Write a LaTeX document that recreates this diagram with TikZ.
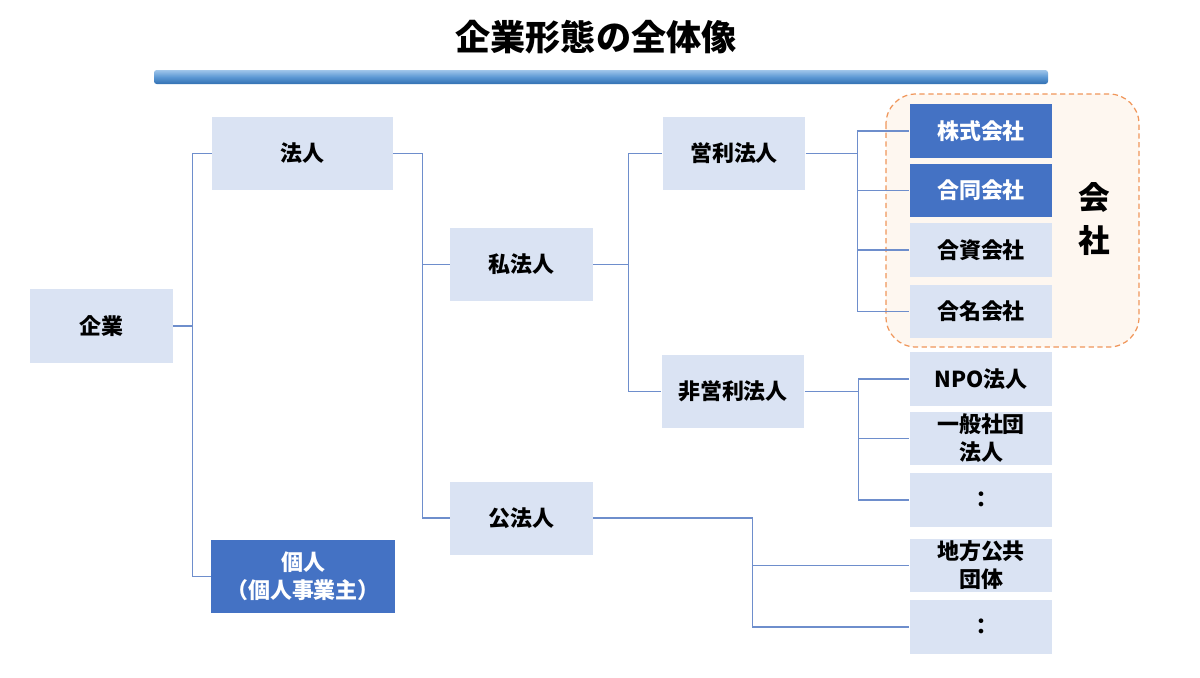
\documentclass[tikz,border=0pt]{standalone}
\usepackage{fontspec}
\setmainfont{Noto Sans CJK JP}
\definecolor{boxblue}{RGB}{218,227,243}
\definecolor{darkblue}{RGB}{68,114,196}
\definecolor{linkblue}{RGB}{110,142,204}
\definecolor{kaiorange}{RGB}{240,150,90}
\definecolor{kaifill}{RGB}{254,247,240}
\tikzset{
  ent/.style={fill=boxblue, inner sep=0pt, align=center,
    font=\fontsize{12.5}{16}\selectfont\bfseries},
  entdark/.style={ent, fill=darkblue, text=white},
  lvl/.style={minimum width=2.86cm, minimum height=1.46cm},
  leaf/.style={minimum width=2.86cm, minimum height=1.07cm},
  link/.style={draw=linkblue, line width=0.6pt},
}
\begin{document}
\begin{tikzpicture}[x=0.02cm, y=-0.02cm]
  \useasboundingbox (0,0) rectangle (1200,677);
  % title and bar
  \node[font=\fontsize{20}{24}\selectfont\bfseries] (title) at (596,37) {企業形態の全体像};
  \shade[top color={rgb,255:red,160;green,198;blue,234}, bottom color={rgb,255:red,50;green,112;blue,178},
    middle color={rgb,255:red,92;green,152;blue,212}, rounded corners=1.5pt] (154,70) rectangle (1048,84);
  % kaisha group
  \draw[draw=kaiorange, fill=kaifill, line width=0.7pt, dash pattern=on 3pt off 2pt,
    rounded corners=17pt] (886,94) rectangle (1139,347);
  \node[font=\fontsize{18}{24}\selectfont\bfseries, align=center] (kaisha) at (1094,219) {会\\社};
  % level 1 and 2
  \node[ent, minimum width=2.86cm, minimum height=1.48cm] (kigyo) at (101.5,326) {企業};
  \node[ent, minimum width=3.62cm, minimum height=1.46cm] (hojin) at (302.5,153.5) {法人};
  \node[entdark, minimum width=3.68cm, minimum height=1.46cm] (kojin) at (303,576.5) {個人\\（個人事業主）};
  % level 3 and 4
  \node[ent, lvl] (shihojin) at (521.5,264.5) {私法人};
  \node[ent, lvl] (kohojin) at (521.5,518) {公法人};
  \node[ent, lvl] (eiri) at (734,153.5) {営利法人};
  \node[ent, lvl] (hieiri) at (733,391.5) {非営利法人};
  % leaves
  \node[entdark, leaf] (kabushiki) at (981,131) {株式会社};
  \node[entdark, leaf] (godo) at (981,190.5) {合同会社};
  \node[ent, leaf] (goshi) at (981,250) {合資会社};
  \node[ent, leaf] (gomei) at (981,311.5) {合名会社};
  \node[ent, leaf] (npo) at (981,379) {NPO法人};
  \node[ent, leaf] (ippan) at (981,438.5) {一般社団\\法人};
  \node[ent, leaf] (hetc) at (981,500) {：};
  \node[ent, leaf] (chiho) at (981,565.5) {地方公共\\団体};
  \node[ent, leaf] (ketc) at (981,627) {：};
  % connectors
  \foreach \kid in {hojin,kojin}
    \draw[link] (kigyo.east) -- ++(19,0) |- (\kid.west);
  \foreach \kid in {shihojin,kohojin}
    \draw[link] (hojin.east) -- ++(29,0) |- (\kid.west);
  \foreach \kid in {eiri,hieiri}
    \draw[link] (shihojin.east) -- ++(35,0) |- (\kid.west);
  \foreach \kid in {kabushiki,godo,goshi,gomei}
    \draw[link] (eiri.east) -- ++(52,0) |- (\kid.west);
  \foreach \kid in {npo,ippan,hetc}
    \draw[link] (hieiri.east) -- ++(54,0) |- (\kid.west);
  \foreach \kid in {chiho,ketc}
    \draw[link] (kohojin.east) -- ++(159,0) |- (\kid.west);
\end{tikzpicture}
\end{document}
